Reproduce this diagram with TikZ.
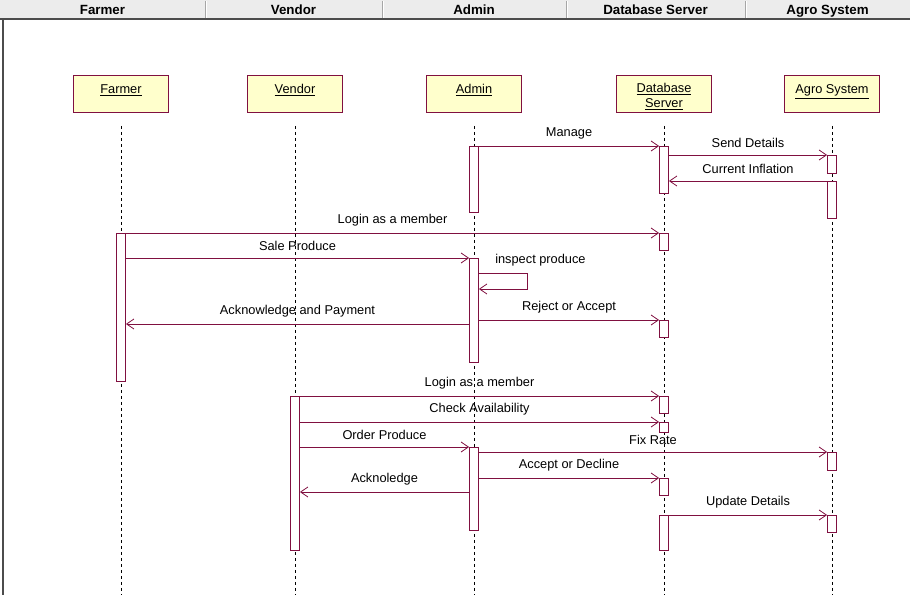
\documentclass[tikz,border=0pt]{standalone}
\usepackage{fontspec}
\setmainfont{Liberation Sans}
\usetikzlibrary{arrows.meta,positioning}
\definecolor{umlline}{RGB}{128,16,64}
\definecolor{umlfill}{RGB}{255,255,204}
\definecolor{barfill}{RGB}{236,236,236}
\tikzset{
  obj/.style={draw=umlline,fill=umlfill,line width=0.6pt,minimum width=71.25pt,minimum height=27.75pt,anchor=north,align=center,inner sep=0pt},
  act/.style={draw=umlline,fill=white,line width=0.6pt,minimum width=6.75pt,inner sep=0pt,anchor=north},
  life/.style={draw=black,line width=0.5pt,dash pattern=on 2.5pt off 2pt},
  msg/.style={draw=umlline,line width=0.6pt,-{Straight Barb[length=5.5pt,width=7.5pt]}},
  hdr/.style={font=\bfseries\fontsize{10}{12}\selectfont,inner sep=0pt,anchor=base},
  lbl/.style={above=5pt,inner sep=0pt},
}
\newcommand{\actv}[4]{\node[act,minimum height={(#4-#3)*0.75pt}] (#1) at (#2,#3) {};}
\newcommand{\toprule}{\rule{0pt}{11pt}}

\begin{document}
\begin{tikzpicture}[x=0.75pt,y=-0.75pt,font=\fontsize{9.6}{11.25}\selectfont]
  \useasboundingbox (0,0) rectangle (910,595);
  % header bar
  \fill[barfill] (0,0) rectangle (910,18);
  \foreach \x in {205,382,566,745} {
    \draw[gray!70] (\x,1) -- (\x,18);
    \draw[white] (\x+1,1) -- (\x+1,18);
  }
  \node[hdr] (hFarmer) at (102.5,14.5) {Farmer};
  \node[hdr] (hVendor) at (293.5,14.5) {Vendor};
  \node[hdr] (hAdmin) at (474,14.5) {Admin};
  \node[hdr] (hDb) at (655.5,14.5) {Database Server};
  \node[hdr] (hAgro) at (827.5,14.5) {Agro System};
  \draw[gray!60!black,line width=1.5pt] (0,19.5) -- (910,19.5);
  \draw[gray!60!black,line width=1.5pt] (3,19) -- (3,595);

  % objects
  \node[obj] (farmer) at (121,75) {\toprule\underline{Farmer}\\\mbox{}};
  \node[obj] (vendor) at (295,75) {\toprule\underline{Vendor}\\\mbox{}};
  \node[obj] (admin) at (474,75) {\toprule\underline{Admin}\\\mbox{}};
  \node[obj] (db) at (664,75) {\toprule\underline{Database}\\\underline{Server}};
  \node[obj] (agro) at (832,75) {\toprule\underline{Agro System}\\\mbox{}};

  % lifelines
  \foreach \o in {farmer,vendor,admin,db,agro}
    \draw[life] ([yshift=-9.75pt]\o.south) -- (\o.south |- 0,595);

  % activations
  \actv{admA1}{474}{146}{212}
  \actv{dbA1}{664}{146}{193}
  \actv{agA1}{832}{155}{173}
  \actv{agA2}{832}{181}{218}
  \actv{dbA2}{664}{233}{250}
  \actv{faA1}{121}{233}{381}
  \actv{admA2}{474}{258}{362}
  \actv{dbA3}{664}{320}{337}
  \actv{veA1}{295}{396}{550}
  \actv{dbA4}{664}{396}{413}
  \actv{dbA5}{664}{422}{432}
  \actv{admA3}{474}{447}{530}
  \actv{agA3}{832}{452}{470}
  \actv{dbA6}{664}{478}{495}
  \actv{dbA7}{664}{515}{550}
  \actv{agA4}{832}{515}{532}

  \coordinate (selfA) at (527,273);
  \coordinate (selfB) at (527,289);
  \coordinate (payY) at (0,324);
  \coordinate (ackY) at (0,492);

  % messages
  \draw[msg] (admA1.north east) -- node[lbl] {Manage} (dbA1.north west);
  \draw[msg] (dbA1.east |- agA1.north) -- node[lbl] {Send Details} (agA1.north west);
  \draw[msg] (agA2.north west) -- node[lbl] {Current Inflation} (dbA1.east |- agA2.north);
  \draw[msg] (faA1.north east) -- node[lbl] {Login as a member} (dbA2.north west);
  \draw[msg] (faA1.east |- admA2.north) -- node[lbl] {Sale Produce} (admA2.north west);
  \draw[msg] (admA2.east |- selfA) -- (selfA) -- (selfB) -- (admA2.east |- selfB);
  \node[anchor=west,inner sep=0pt] (inspect) at (495,260) {inspect produce};
  \draw[msg] (admA2.west |- payY) -- node[lbl] {Acknowledge and Payment} (faA1.east |- payY);
  \draw[msg] (admA2.east |- dbA3.north) -- node[lbl] {Reject or Accept} (dbA3.north west);
  \draw[msg] (veA1.north east) -- node[lbl] {Login as a member} (dbA4.north west);
  \draw[msg] (veA1.east |- dbA5.north) -- node[lbl] {Check Availability} (dbA5.north west);
  \draw[msg] (veA1.east |- admA3.north) -- node[lbl] {Order Produce} (admA3.north west);
  \draw[msg] (admA3.east |- agA3.north) -- node[lbl] {Fix Rate} (agA3.north west);
  \draw[msg] (admA3.east |- dbA6.north) -- node[lbl] {Accept or Decline} (dbA6.north west);
  \draw[msg] (admA3.west |- ackY) -- node[lbl] {Acknoledge} (veA1.east |- ackY);
  \draw[msg] (dbA7.north east) -- node[lbl] {Update Details} (agA4.north west);
\end{tikzpicture}
\end{document}
